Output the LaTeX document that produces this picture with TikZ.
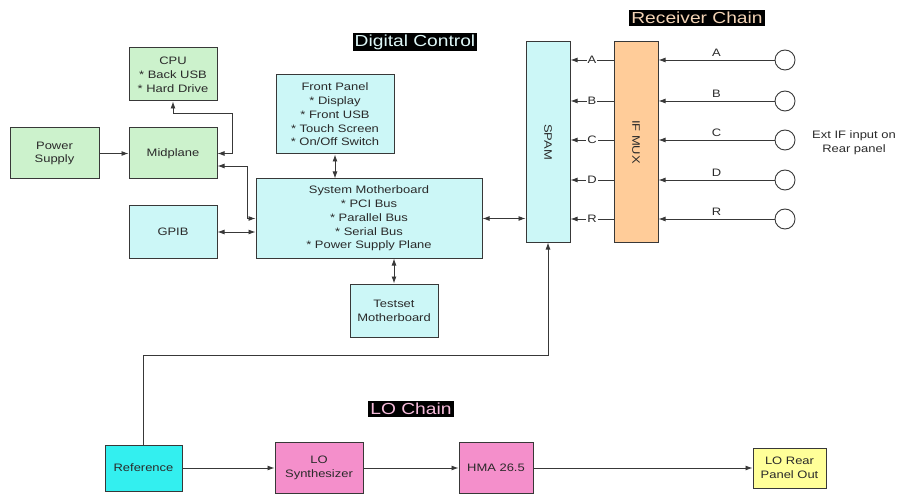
\documentclass[tikz,border=0pt]{standalone}
\usepackage{fontspec}
\setmainfont[FakeStretch=1.2]{Liberation Sans}
\usetikzlibrary{arrows.meta}
\definecolor{lgreen}{HTML}{CCF2CC}
\definecolor{lcyan}{HTML}{CCF7F7}
\definecolor{peach}{HTML}{FFCC99}
\definecolor{refcyan}{HTML}{33EFEF}
\definecolor{pinkbox}{HTML}{F48FCB}
\definecolor{lyellow}{HTML}{FFFF99}
\definecolor{edge}{HTML}{383838}
\definecolor{tan}{HTML}{F2D2B4}
\definecolor{paleblue}{HTML}{DDF6F6}
\definecolor{palepink}{HTML}{F6BBDB}
\definecolor{ink}{HTML}{2A2A2A}

\begin{document}
\begin{tikzpicture}[x=1pt,y=-1pt,
  font=\fontsize{10.8}{13.8}\selectfont,
  blk/.style={draw=edge, line width=1pt, align=center, inner sep=0pt, text=ink},
  title/.style={fill=black, inner xsep=2pt, inner ysep=2pt, font=\fontsize{16}{18}\selectfont},
  arr/.style={draw=edge, line width=0.9pt, -{Latex[length=7pt,width=5pt]}},
  biarr/.style={draw=edge, line width=0.9pt, {Latex[length=7pt,width=5pt]}-{Latex[length=7pt,width=5pt]}},
  port/.style={circle, draw=edge, line width=0.9pt, minimum size=20pt, inner sep=0pt, fill=white}]
\useasboundingbox (0,0) rectangle (901,494);

% titles
\node[title, text=paleblue] (tdig) at (415,42) {Digital Control};
\node[title, text=tan] (trec) at (697,18) {Receiver Chain};
\node[title, text=palepink] (tlo) at (411,409) {LO Chain};

% digital control blocks
\node[blk, fill=lgreen, minimum width=88pt, minimum height=53pt] (cpu) at (173,74.5) {CPU\\* Back USB\\* Hard Drive};
\node[blk, fill=lgreen, minimum width=88pt, minimum height=51pt] (mid) at (173,153.5) {Midplane};
\node[blk, fill=lgreen, minimum width=89pt, minimum height=51pt] (ps) at (54.5,153.5) {Power\\Supply};
\node[blk, fill=lcyan, minimum width=88pt, minimum height=52pt] (gpib) at (173,232) {GPIB};
\node[blk, fill=lcyan, minimum width=118pt, minimum height=79pt] (fp) at (335,114.5) {Front Panel\\* Display\\* Front USB\\* Touch Screen\\* On/Off Switch};
\node[blk, fill=lcyan, minimum width=226pt, minimum height=79pt] (smb) at (369,218.5) {System Motherboard\\* PCI Bus\\* Parallel Bus\\* Serial Bus\\* Power Supply Plane};
\node[blk, fill=lcyan, minimum width=88pt, minimum height=53pt] (tsm) at (394,310.5) {Testset\\Motherboard};

% receiver chain blocks
\node[blk, fill=lcyan, minimum width=44pt, minimum height=200pt] (spam) at (548,142) {};
\node[rotate=-90, text=ink] (spamlbl) at (spam.center) {SPAM};
\node[blk, fill=peach, minimum width=44pt, minimum height=200pt] (mux) at (636,142) {};
\node[rotate=-90, text=ink] (muxlbl) at (mux.center) {IF MUX};
\node[align=center, text=ink] (ext) at (854,143) {Ext IF input on\\Rear panel};

% LO chain blocks
\node[blk, fill=refcyan, minimum width=77pt, minimum height=46pt] (ref) at (143.5,468) {Reference};
\node[blk, fill=pinkbox, minimum width=88pt, minimum height=51pt] (los) at (319,467.5) {LO\\Synthesizer};
\node[blk, fill=pinkbox, minimum width=74pt, minimum height=51pt] (hma) at (496,467.5) {HMA 26.5};
\node[blk, fill=lyellow, minimum width=73pt, minimum height=40pt] (lor) at (789.5,468) {LO Rear\\Panel Out};

% digital control connections
\draw[arr] (ps.east) -- (mid.west);
\coordinate (cpuj) at (232,113);
\draw[biarr] (mid.east) -| (cpuj) -| (cpu.south);
\draw[biarr] ([yshift=-12.5pt]mid.east) -- ++(30,0) |- (smb.west);
\draw[biarr] (gpib.east) -- (gpib.east -| smb.west);
\draw[biarr] (fp.south) -- (fp.south |- smb.north);
\draw[biarr] (tsm.north |- smb.south) -- (tsm.north);
\draw[biarr] (smb.east) -- (smb.east -| spam.west);

% receiver chain inputs
\foreach \yy/\lbl in {60/A, 101/B, 140/C, 180/D, 219/R}{
  \node[port] (in\lbl) at (785,\yy) {};
  \draw[arr] (in\lbl.west) -- node[above=3pt, inner sep=0pt, text=ink] {\lbl} (in\lbl.west -| mux.east);
  \draw[arr] (mux.west |- in\lbl) -- node[fill=white, inner sep=1pt, text=ink] {\lbl} (spam.east |- in\lbl);
}

% LO chain connections
\coordinate (bend) at (548,355);
\draw[arr] (ref.north) |- (bend) -- (spam.south);
\draw[arr] (ref.east) -- (los.west |- ref.east);
\draw[arr] (los.east |- ref.east) -- (hma.west |- ref.east);
\draw[arr] (hma.east |- ref.east) -- (lor.west);
\end{tikzpicture}
\end{document}
